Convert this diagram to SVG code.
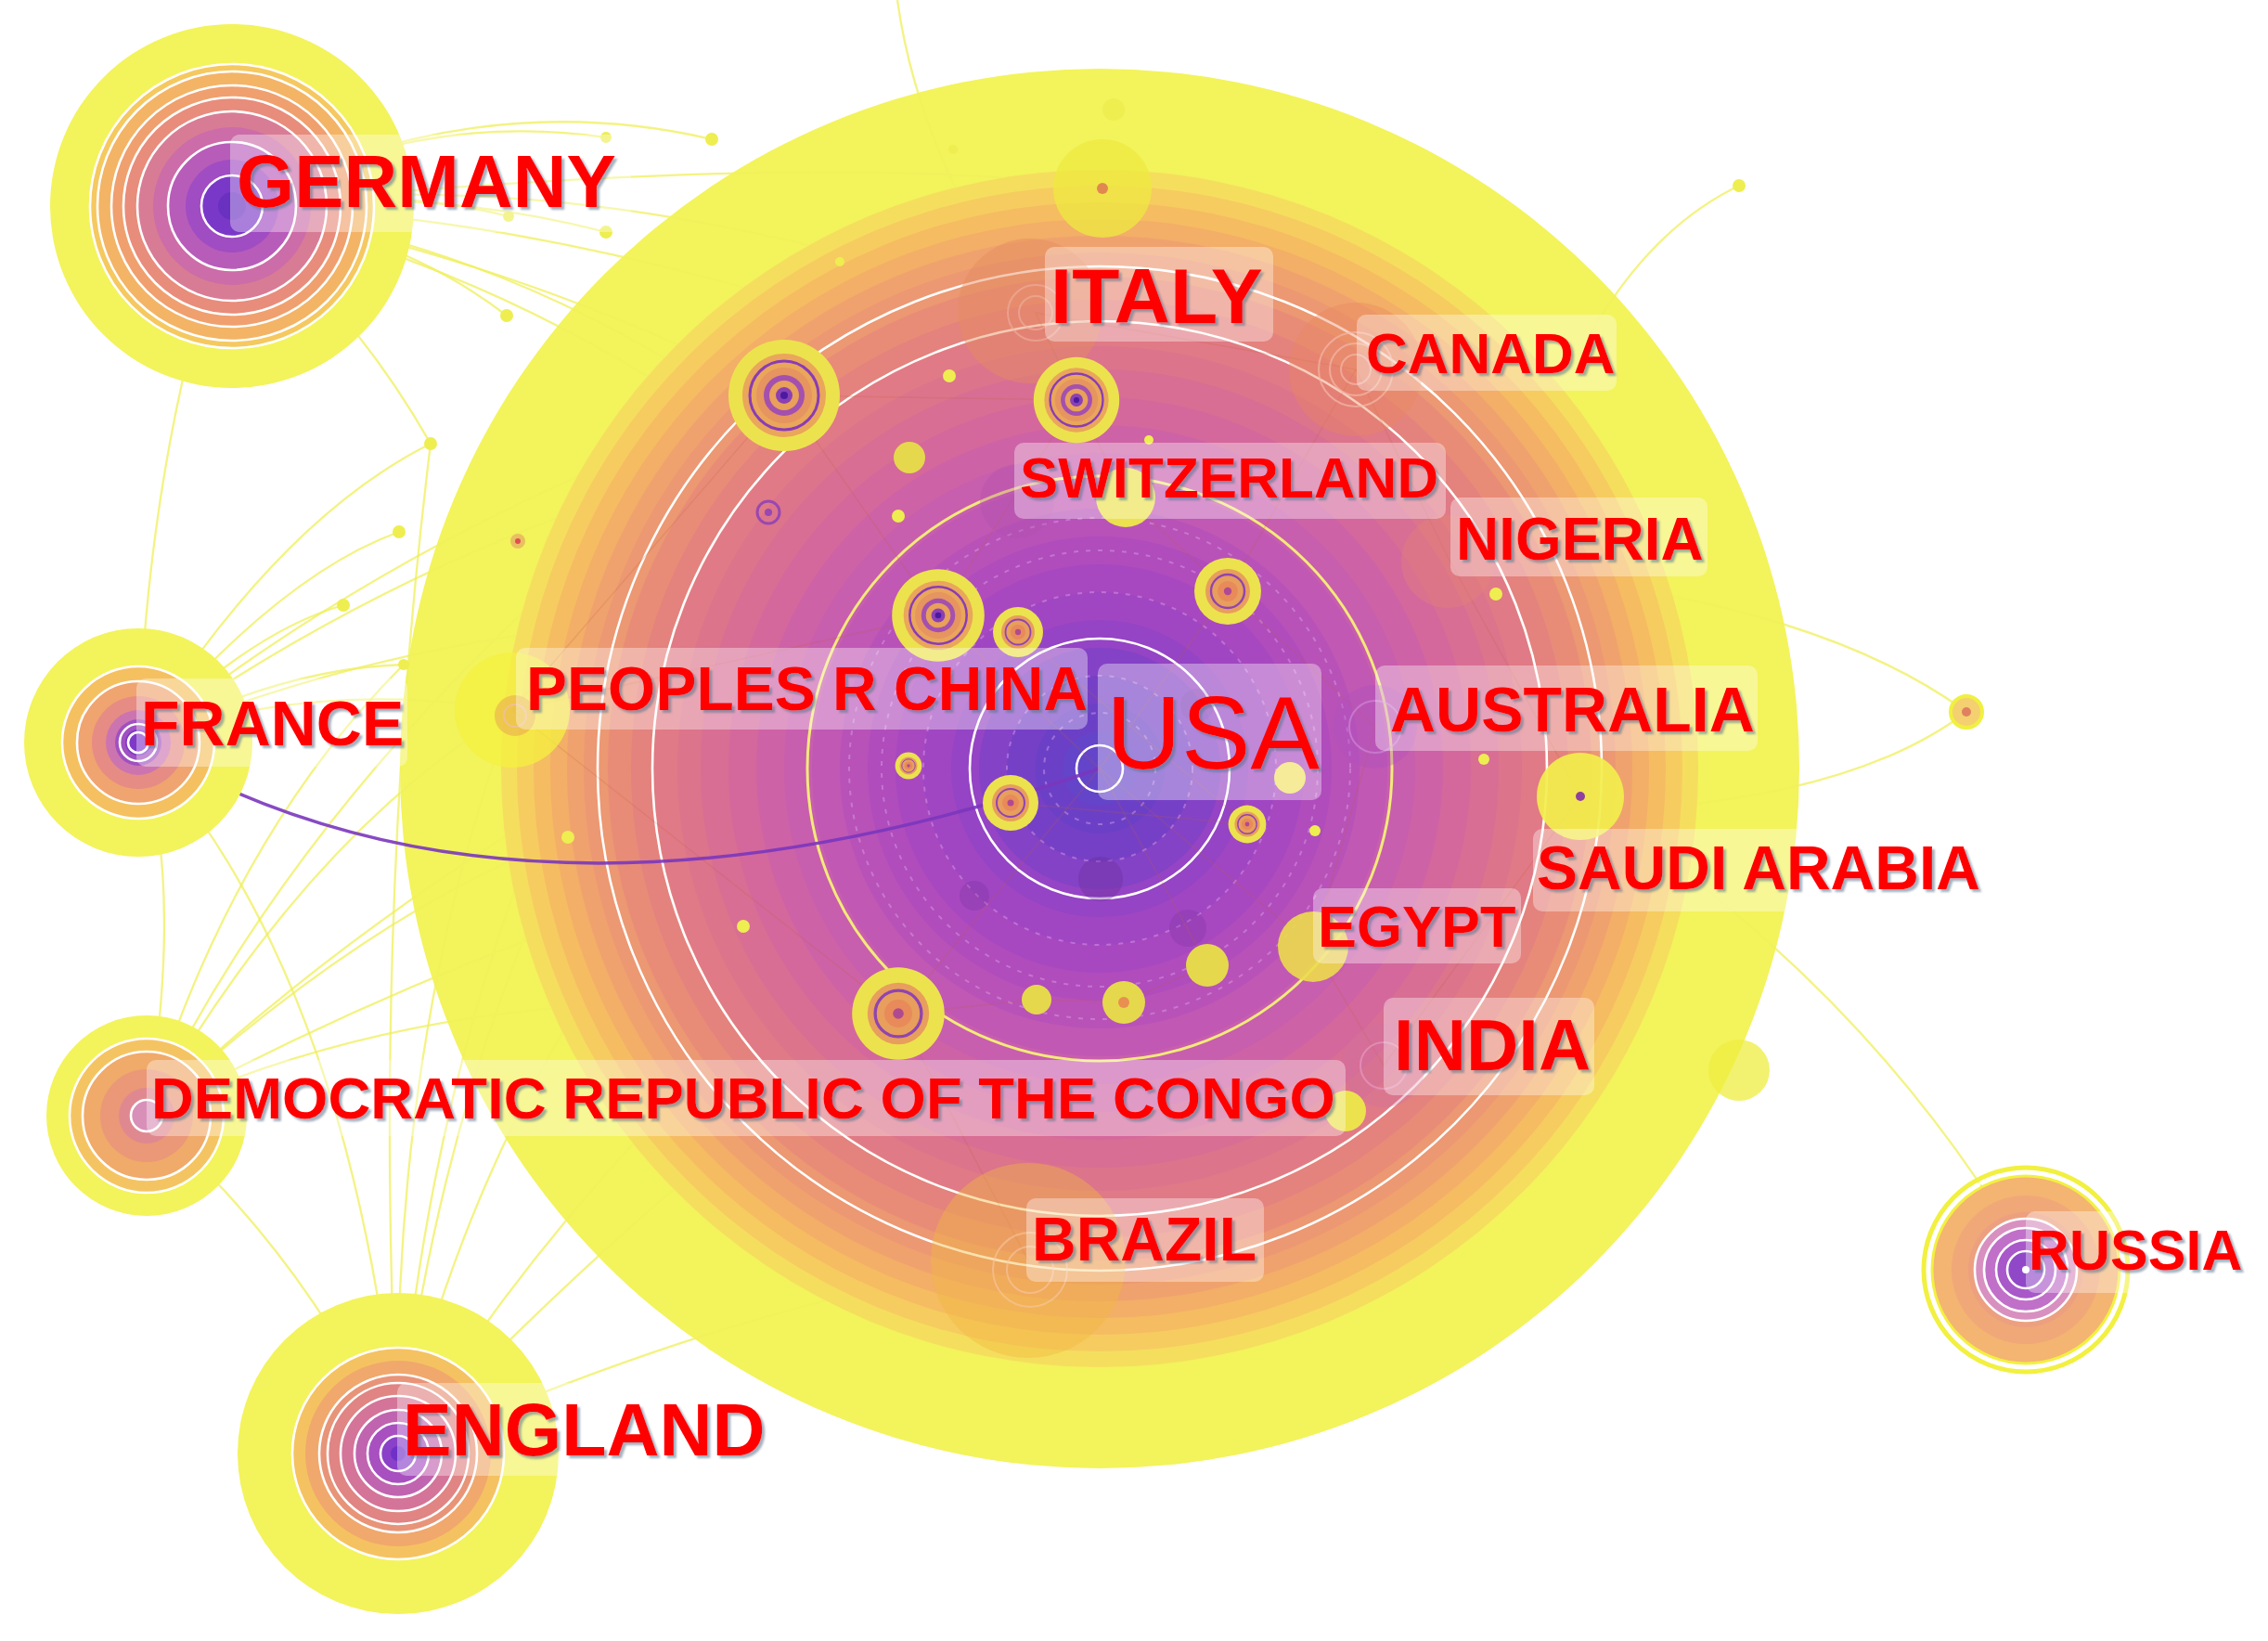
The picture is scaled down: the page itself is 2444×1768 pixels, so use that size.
<svg xmlns="http://www.w3.org/2000/svg" xmlns:xlink="http://www.w3.org/1999/xlink" width="2444" height="1768" viewBox="0 0 2444 1768">
<defs>
<filter id="sh" x="-5%" y="-20%" width="115%" height="150%">
<feDropShadow dx="3" dy="3" stdDeviation="1.2" flood-color="#5a7088" flood-opacity="0.55"/>
</filter>
<mask id="outside" maskUnits="userSpaceOnUse" x="0" y="0" width="2444" height="1768">
<rect width="2444" height="1768" fill="#ffffff"/>
<circle cx="1185" cy="828" r="754" fill="#808080"/>
<circle cx="1185" cy="828" r="645" fill="#000000"/>
</mask>
<g id="tree">
<circle r="60" fill="#ece24e"/>
<circle r="45" fill="#eaa65a"/>
<circle r="37" fill="none" stroke="#8a3cb4" stroke-width="3"/>
<circle r="30" fill="#e69460"/>
<circle r="22" fill="#a450ae"/>
<circle r="16" fill="#e8a05a"/>
<circle r="9" fill="#8a40b4"/>
<circle r="4" fill="#4a1aa0"/>
</g>
<g id="tree2">
<circle r="60" fill="#ece24e"/>
<circle r="40" fill="#e89e5c"/>
<circle r="30" fill="none" stroke="#9044b0" stroke-width="4"/>
<circle r="18" fill="#e88a5a"/>
<circle r="7" fill="#b04a90"/>
</g>
</defs>
<style>
.lbl{font-family:"Liberation Sans",Arial,sans-serif;font-weight:bold;fill:#ff0000;filter:url(#sh)}
.box{fill:#ffffff;fill-opacity:0.36}
.edge{fill:none;stroke:#efef5a;stroke-width:2.3;stroke-opacity:0.75}
.net{fill:none;stroke:#c4603c;stroke-width:1.5;stroke-opacity:0.2}
.wr{fill:none;stroke:#ffffff;stroke-width:2.6}
.dash{fill:none;stroke:#dba6ea;stroke-width:2;stroke-opacity:0.45;stroke-dasharray:5 8}
.dot{fill:#eeee50}
</style>
<rect width="2444" height="1768" fill="#ffffff"/>

<g id="node-usa">
<circle cx="1185" cy="828" r="754" fill="#f3f35c"/>
<circle cx="1185" cy="828" r="645" fill="#f5de5e"/>
<circle cx="1185" cy="828" r="628" fill="#f6cc60"/>
<circle cx="1185" cy="828" r="610" fill="#f5bc62"/>
<circle cx="1185" cy="828" r="592" fill="#f3ae68"/>
<circle cx="1185" cy="828" r="574" fill="#f0a26e"/>
<circle cx="1185" cy="828" r="556" fill="#ec9872"/>
<circle cx="1185" cy="828" r="530" fill="#e88c78"/>
<circle cx="1185" cy="828" r="505" fill="#e4827e"/>
<circle cx="1185" cy="828" r="480" fill="#e07a86"/>
<circle cx="1185" cy="828" r="455" fill="#dc748c"/>
<circle cx="1185" cy="828" r="430" fill="#d86e94"/>
<circle cx="1185" cy="828" r="400" fill="#d4689c"/>
<circle cx="1185" cy="828" r="370" fill="#ce62a6"/>
<circle cx="1185" cy="828" r="340" fill="#c85eae"/>
<circle cx="1185" cy="828" r="310" fill="#c058b4"/>
<circle cx="1185" cy="828" r="280" fill="#b852b8"/>
<circle cx="1185" cy="828" r="250" fill="#b04cbc"/>
<circle cx="1185" cy="828" r="220" fill="#a848c0"/>
<circle cx="1185" cy="828" r="190" fill="#a046c2"/>
<circle cx="1185" cy="828" r="160" fill="#9444c4"/>
<circle cx="1185" cy="828" r="130" fill="#8442c6"/>
<circle cx="1185" cy="828" r="100" fill="#7640c6"/>
<circle cx="1185" cy="828" r="70" fill="#6c40c6"/>
<circle cx="1185" cy="828" r="40" fill="#6444c8"/>
<circle cx="1185" cy="828" r="541" class="wr" stroke-width="3"/>
<circle cx="1185" cy="828" r="482" class="wr" stroke-width="3"/>
<circle cx="1185" cy="828" r="315" fill="none" stroke="#f2ea7a" stroke-width="3"/>
<circle cx="1185" cy="828" r="140" class="wr" stroke-width="4"/>
<circle cx="1185" cy="828" r="25" class="wr" stroke-width="4"/>
<circle cx="1185" cy="828" r="60" class="dash"/>
<circle cx="1185" cy="828" r="100" class="dash"/>
<circle cx="1185" cy="828" r="190" class="dash"/>
<circle cx="1185" cy="828" r="235" class="dash"/>
<circle cx="1185" cy="828" r="270" class="dash"/>
<circle cx="1186" cy="947" r="24" fill="#6a2a98" fill-opacity="0.35"/>
<circle cx="1290" cy="760" r="18" fill="#6a2a98" fill-opacity="0.25"/>
<circle cx="1050" cy="965" r="16" fill="#6a2a98" fill-opacity="0.25"/>
<circle cx="1280" cy="1000" r="20" fill="#6a2a98" fill-opacity="0.2"/>
</g>

<g id="connectors">
<path class="net" d="M845,426 L1160,431 L1116,337 L1461,398 L1323,637 L1185,828 L1011,663 L845,426"/>
<path class="net" d="M1011,663 L1160,431 L1213,536 L1323,637 L1482,783 L1415,1020 L1185,828"/>
<path class="net" d="M968,1092 L1185,828 L1301,1040 L1211,1080 L1117,1077 L968,1092 L1108,1358"/>
<path class="net" d="M1461,398 L1560,600 L1703,858 L1491,1148 L1415,1020"/>
<path class="net" d="M552,765 L845,426 M552,765 L1011,663 M552,765 L968,1092 M1097,681 L1344,888 L1089,865"/>
<g mask="url(#outside)">
<path class="edge" d="M250,222 Q510,90 767,150"/>
<path class="edge" d="M250,222 Q450,118 653,148"/>
<path class="edge" d="M250,222 Q420,200 548,233"/>
<path class="edge" d="M250,222 Q460,200 653,250"/>
<path class="edge" d="M250,222 Q430,250 546,340"/>
<path class="edge" d="M250,222 Q380,330 464,478"/>
<path class="edge" d="M250,222 Q640,170 1116,337"/>
<path class="edge" d="M250,222 Q650,230 1160,431"/>
<path class="edge" d="M250,222 Q560,280 845,426"/>
<path class="edge" d="M250,222 Q700,330 1011,663"/>
<path class="edge" d="M250,222 Q800,300 1185,828"/>
<path class="edge" d="M250,222 Q900,160 1188,203"/>
<path class="edge" d="M149,800 Q300,560 464,478"/>
<path class="edge" d="M149,800 Q300,620 430,573"/>
<path class="edge" d="M149,800 Q270,680 370,652"/>
<path class="edge" d="M149,800 Q300,720 435,716"/>
<path class="edge" d="M149,800 Q450,560 845,426"/>
<path class="edge" d="M149,800 Q520,640 1011,663"/>
<path class="edge" d="M149,800 Q330,730 552,765"/>
<path class="edge" d="M149,800 Q600,480 1160,431"/>
<path class="edge" d="M149,800 Q160,480 250,222"/>
<path class="edge" d="M158,1202 Q330,900 552,765"/>
<path class="edge" d="M158,1202 Q360,780 845,426"/>
<path class="edge" d="M158,1202 Q520,860 1011,663"/>
<path class="edge" d="M158,1202 Q600,960 1185,828"/>
<path class="edge" d="M158,1202 Q250,900 435,716"/>
<path class="edge" d="M158,1202 Q400,980 612,902"/>
<path class="edge" d="M158,1202 Q500,1040 968,1092"/>
<path class="edge" d="M158,1202 Q200,950 149,800"/>
<path class="edge" d="M429,1566 Q380,1050 149,800"/>
<path class="edge" d="M429,1566 Q420,1120 552,765"/>
<path class="edge" d="M429,1566 Q480,900 845,426"/>
<path class="edge" d="M429,1566 Q560,1000 1011,663"/>
<path class="edge" d="M429,1566 Q700,1280 968,1092"/>
<path class="edge" d="M429,1566 Q720,1100 1185,828"/>
<path class="edge" d="M429,1566 Q400,1000 464,478"/>
<path class="edge" d="M429,1566 Q330,1350 158,1202"/>
<path class="edge" d="M429,1566 Q800,1400 1108,1358"/>
<path class="edge" d="M429,1566 Q470,1200 612,902"/>
<path class="edge" d="M1790,640 Q2000,680 2119,767"/>
<path class="edge" d="M1790,870 Q2010,850 2119,767"/>
<path class="edge" d="M1700,385 Q1770,250 1874,200"/>
<path class="edge" d="M1760,900 Q1990,1060 2140,1285"/>
<path class="edge" d="M967,0 Q985,130 1060,260"/>
</g>
<path d="M149,800 Q560,1045 1185,828" fill="none" stroke="#7a36bc" stroke-width="3.5" stroke-opacity="0.9"/>
<circle class="dot" cx="767" cy="150" r="7"/>
<circle class="dot" cx="653" cy="148" r="6"/>
<circle class="dot" cx="548" cy="233" r="6"/>
<circle class="dot" cx="653" cy="250" r="7"/>
<circle class="dot" cx="546" cy="340" r="7"/>
<circle class="dot" cx="464" cy="478" r="7"/>
<circle class="dot" cx="430" cy="573" r="7"/>
<circle class="dot" cx="370" cy="652" r="7"/>
<circle class="dot" cx="435" cy="716" r="6"/>
<circle class="dot" cx="1874" cy="200" r="7"/>
<circle class="dot" cx="1027" cy="161" r="5"/>
<circle class="dot" cx="1200" cy="118" r="12"/>
</g>

<g id="node-minor">
<circle cx="1188" cy="203" r="53" fill="#eeea40" fill-opacity="0.75"/>
<circle cx="1188" cy="203" r="6" fill="#e08850"/>
<circle cx="1110" cy="335" r="78" fill="#e48c60" fill-opacity="0.45"/>
<circle cx="1116" cy="337" r="30" fill="none" stroke="#f0b0a0" stroke-width="2" stroke-opacity="0.6"/>
<circle cx="1116" cy="337" r="18" fill="none" stroke="#f0b0a0" stroke-width="2" stroke-opacity="0.6"/>
<circle cx="1461" cy="398" r="72" fill="#e88860" fill-opacity="0.4"/>
<circle cx="1461" cy="398" r="40" fill="none" stroke="#f4b8a8" stroke-width="2" stroke-opacity="0.7"/>
<circle cx="1461" cy="398" r="28" fill="none" stroke="#f4b8a8" stroke-width="2" stroke-opacity="0.7"/>
<circle cx="1461" cy="398" r="16" fill="none" stroke="#f4b8a8" stroke-width="2" stroke-opacity="0.7"/>
<circle cx="1108" cy="1358" r="105" fill="#f0b840" fill-opacity="0.42"/>
<circle cx="1110" cy="1368" r="40" fill="none" stroke="#f6c8a0" stroke-width="2" stroke-opacity="0.6"/>
<circle cx="1110" cy="1368" r="25" fill="none" stroke="#f6c8a0" stroke-width="2" stroke-opacity="0.6"/>
<circle cx="552" cy="765" r="62" fill="#f4f040" fill-opacity="0.75"/>
<circle cx="555" cy="771" r="22" fill="#e8a050" fill-opacity="0.5"/>
<circle cx="555" cy="771" r="12" fill="none" stroke="#f0c090" stroke-width="2"/>
<circle cx="1096" cy="540" r="40" fill="#b050b0" fill-opacity="0.3"/>
<circle cx="1482" cy="783" r="45" fill="#b050c0" fill-opacity="0.35"/>
<circle cx="1482" cy="783" r="28" fill="none" stroke="#d090d8" stroke-width="2" stroke-opacity="0.6"/>
<circle cx="1491" cy="1148" r="45" fill="#d070a0" fill-opacity="0.35"/>
<circle cx="1491" cy="1148" r="25" fill="none" stroke="#e8a0c8" stroke-width="2" stroke-opacity="0.6"/>
<circle cx="1560" cy="605" r="50" fill="#e88870" fill-opacity="0.3"/>
<circle cx="1415" cy="1020" r="38" fill="#ecdc4c" fill-opacity="0.9"/>
<circle cx="1703" cy="858" r="47" fill="#f2ee4c" fill-opacity="0.92"/>
<circle cx="1703" cy="858" r="5" fill="#9040a0"/>
<circle cx="1874" cy="1153" r="33" fill="#eeee40" fill-opacity="0.75"/>
<circle cx="1213" cy="536" r="32" fill="#ece24e"/>
<circle cx="1450" cy="1197" r="22" fill="#ece24e"/>
<circle cx="1390" cy="838" r="17" fill="#f0e060"/>
<circle cx="1117" cy="1077" r="16" fill="#e6d84c"/>
<circle cx="1211" cy="1080" r="23" fill="#e6d84c"/>
<circle cx="1211" cy="1080" r="6" fill="#e89050"/>
<circle cx="1301" cy="1040" r="23" fill="#e6d84c"/>
<circle cx="980" cy="493" r="17" fill="#e6d84c"/>
<circle cx="828" cy="552" r="12" fill="none" stroke="#9848b0" stroke-width="3"/>
<circle cx="828" cy="552" r="4" fill="#9848b0"/>
<circle cx="558" cy="583" r="8" fill="#e8c060"/>
<circle cx="558" cy="583" r="3" fill="#e05050"/>
<circle class="dot" cx="612" cy="902" r="7"/>
<circle class="dot" cx="801" cy="998" r="7"/>
<circle class="dot" cx="1417" cy="895" r="6"/>
<circle class="dot" cx="1612" cy="640" r="7"/>
<circle class="dot" cx="1599" cy="818" r="6"/>
<circle class="dot" cx="1023" cy="405" r="7"/>
<circle class="dot" cx="968" cy="556" r="7"/>
<circle class="dot" cx="1238" cy="474" r="5"/>
<circle class="dot" cx="905" cy="282" r="5"/>
<use xlink:href="#tree" transform="translate(845,426)"/>
<use xlink:href="#tree" transform="translate(1160,431) scale(0.77)"/>
<use xlink:href="#tree" transform="translate(1011,663) scale(0.83)"/>
<use xlink:href="#tree2" transform="translate(1097,681) scale(0.45)"/>
<use xlink:href="#tree2" transform="translate(968,1092) scale(0.83)"/>
<use xlink:href="#tree2" transform="translate(1323,637) scale(0.6)"/>
<use xlink:href="#tree2" transform="translate(1089,865) scale(0.5)"/>
<use xlink:href="#tree2" transform="translate(1344,888) scale(0.34)"/>
<use xlink:href="#tree2" transform="translate(979,825) scale(0.24)"/>
<circle cx="2119" cy="767" r="17" fill="#f4d070" stroke="#f0f040" stroke-width="4"/>
<circle cx="2119" cy="767" r="5" fill="#e08060"/>
</g>

<g id="node-germany">
<circle cx="250" cy="222" r="196" fill="#f3f35c"/>
<circle cx="250" cy="222" r="153" fill="#f5c860"/>
<circle cx="250" cy="222" r="145" fill="#f3b466"/>
<circle cx="250" cy="222" r="130" fill="#efa06e"/>
<circle cx="250" cy="222" r="117" fill="#e88c7c"/>
<circle cx="250" cy="222" r="102" fill="#d87c96"/>
<circle cx="250" cy="222" r="85" fill="#cc6ca8"/>
<circle cx="250" cy="222" r="69" fill="#b85cba"/>
<circle cx="250" cy="222" r="50" fill="#a04cc2"/>
<circle cx="250" cy="222" r="33" fill="#7a38c8"/>
<circle cx="250" cy="222" r="15" fill="#6a30c0"/>
<circle cx="250" cy="222" r="153" class="wr"/>
<circle cx="250" cy="222" r="145" class="wr"/>
<circle cx="250" cy="222" r="130" class="wr"/>
<circle cx="250" cy="222" r="117" class="wr"/>
<circle cx="250" cy="222" r="102" class="wr"/>
<circle cx="250" cy="222" r="69" class="wr"/>
<circle cx="250" cy="222" r="33" class="wr"/>
</g>

<g id="node-france">
<circle cx="149" cy="800" r="123" fill="#f3f35c"/>
<circle cx="149" cy="800" r="82" fill="#f5c060"/>
<circle cx="149" cy="800" r="66" fill="#f0a470"/>
<circle cx="149" cy="800" r="50" fill="#e68c84"/>
<circle cx="149" cy="800" r="35" fill="#cc74b0"/>
<circle cx="149" cy="800" r="25" fill="#a050c0"/>
<circle cx="149" cy="800" r="14" fill="#8038c8"/>
<circle cx="149" cy="800" r="82" class="wr"/>
<circle cx="149" cy="800" r="66" class="wr"/>
<circle cx="149" cy="800" r="20" class="wr"/>
<circle cx="149" cy="800" r="11" class="wr"/>
</g>

<g id="node-drc">
<circle cx="158" cy="1202" r="108" fill="#f3f35c"/>
<circle cx="158" cy="1202" r="83" fill="#f5c462"/>
<circle cx="158" cy="1202" r="69" fill="#f0aa6a"/>
<circle cx="158" cy="1202" r="50" fill="#ea9878"/>
<circle cx="158" cy="1202" r="30" fill="#e08890"/>
<circle cx="158" cy="1202" r="17" fill="#d890b8"/>
<circle cx="158" cy="1202" r="83" class="wr"/>
<circle cx="158" cy="1202" r="69" class="wr"/>
<circle cx="158" cy="1202" r="17" class="wr"/>
</g>

<g id="node-england">
<circle cx="429" cy="1566" r="173" fill="#f3f35c"/>
<circle cx="429" cy="1566" r="114" fill="#f5c262"/>
<circle cx="429" cy="1566" r="100" fill="#f0a86c"/>
<circle cx="429" cy="1566" r="85" fill="#e89478"/>
<circle cx="429" cy="1566" r="76" fill="#e08484"/>
<circle cx="429" cy="1566" r="62" fill="#d47498"/>
<circle cx="429" cy="1566" r="47" fill="#c064b0"/>
<circle cx="429" cy="1566" r="33" fill="#a850c0"/>
<circle cx="429" cy="1566" r="19" fill="#8a40c8"/>
<circle cx="429" cy="1566" r="8" fill="#7030c8"/>
<circle cx="429" cy="1566" r="114" class="wr"/>
<circle cx="429" cy="1566" r="85" class="wr"/>
<circle cx="429" cy="1566" r="76" class="wr"/>
<circle cx="429" cy="1566" r="62" class="wr"/>
<circle cx="429" cy="1566" r="47" class="wr"/>
<circle cx="429" cy="1566" r="33" class="wr"/>
<circle cx="429" cy="1566" r="19" class="wr"/>
</g>

<g id="node-russia">
<circle cx="2183" cy="1368" r="110" fill="none" stroke="#f2f040" stroke-width="5"/>
<circle cx="2183" cy="1368" r="105" class="wr" stroke-width="3"/>
<circle cx="2183" cy="1368" r="101" fill="#f4b472" stroke="#f2f040" stroke-width="3"/>
<circle cx="2183" cy="1368" r="80" fill="#f0a878"/>
<circle cx="2183" cy="1368" r="62" fill="#eca080"/>
<circle cx="2183" cy="1368" r="55" fill="#d890c0"/>
<circle cx="2183" cy="1368" r="45" fill="#c070c8"/>
<circle cx="2183" cy="1368" r="32" fill="#a858c8"/>
<circle cx="2183" cy="1368" r="20" fill="#9048c8"/>
<circle cx="2183" cy="1368" r="55" class="wr"/>
<circle cx="2183" cy="1368" r="45" class="wr"/>
<circle cx="2183" cy="1368" r="32" class="wr"/>
<circle cx="2183" cy="1368" r="20" class="wr"/>
<circle cx="2183" cy="1368" r="4" fill="#ffffff"/>
</g>

<g id="labels">
<g id="label-germany"><rect class="box" x="248" y="145" width="432" height="105" rx="10"/><text class="lbl" x="255" y="223" font-size="80">GERMANY</text></g>
<g id="label-italy"><rect class="box" x="1126" y="266" width="246" height="102" rx="10"/><text class="lbl" x="1132" y="348" font-size="84">ITALY</text></g>
<g id="label-canada"><rect class="box" x="1462" y="339" width="280" height="82" rx="10"/><text class="lbl" x="1472" y="402" font-size="62">CANADA</text></g>
<g id="label-switzerland"><rect class="box" x="1093" y="477" width="465" height="82" rx="10"/><text class="lbl" x="1099" y="536" font-size="62">SWITZERLAND</text></g>
<g id="label-nigeria"><rect class="box" x="1563" y="536" width="277" height="85" rx="10"/><text class="lbl" x="1569" y="603" font-size="64">NIGERIA</text></g>
<g id="label-china"><rect class="box" x="556" y="698" width="616" height="88" rx="10"/><text class="lbl" x="567" y="765" font-size="66">PEOPLES R CHINA</text></g>
<g id="label-usa"><rect class="box" x="1183" y="715" width="241" height="147" rx="10"/><text class="lbl" x="1192" y="828" font-size="112" style="font-weight:normal">USA</text></g>
<g id="label-australia"><rect class="box" x="1482" y="717" width="412" height="92" rx="10"/><text class="lbl" x="1498" y="788" font-size="68">AUSTRALIA</text></g>
<g id="label-france"><rect class="box" x="147" y="731" width="292" height="95" rx="10"/><text class="lbl" x="152" y="803" font-size="68">FRANCE</text></g>
<g id="label-saudi"><rect class="box" x="1652" y="893" width="500" height="89" rx="10"/><text class="lbl" x="1656" y="958" font-size="66">SAUDI ARABIA</text></g>
<g id="label-egypt"><rect class="box" x="1415" y="957" width="224" height="81" rx="10"/><text class="lbl" x="1420" y="1020" font-size="63">EGYPT</text></g>
<g id="label-india"><rect class="box" x="1491" y="1075" width="227" height="105" rx="10"/><text class="lbl" x="1502" y="1153" font-size="78">INDIA</text></g>
<g id="label-drc"><rect class="box" x="158" y="1142" width="1292" height="82" rx="10"/><text class="lbl" x="163" y="1205" font-size="63.5">DEMOCRATIC REPUBLIC OF THE CONGO</text></g>
<g id="label-brazil"><rect class="box" x="1106" y="1291" width="256" height="90" rx="10"/><text class="lbl" x="1112" y="1358" font-size="66">BRAZIL</text></g>
<g id="label-england"><rect class="box" x="428" y="1490" width="400" height="100" rx="10"/><text class="lbl" x="434" y="1568" font-size="79">ENGLAND</text></g>
<g id="label-russia"><rect class="box" x="2183" y="1305" width="240" height="88" rx="10"/><text class="lbl" x="2186" y="1368" font-size="61">RUSSIA</text></g>
</g>
</svg>
